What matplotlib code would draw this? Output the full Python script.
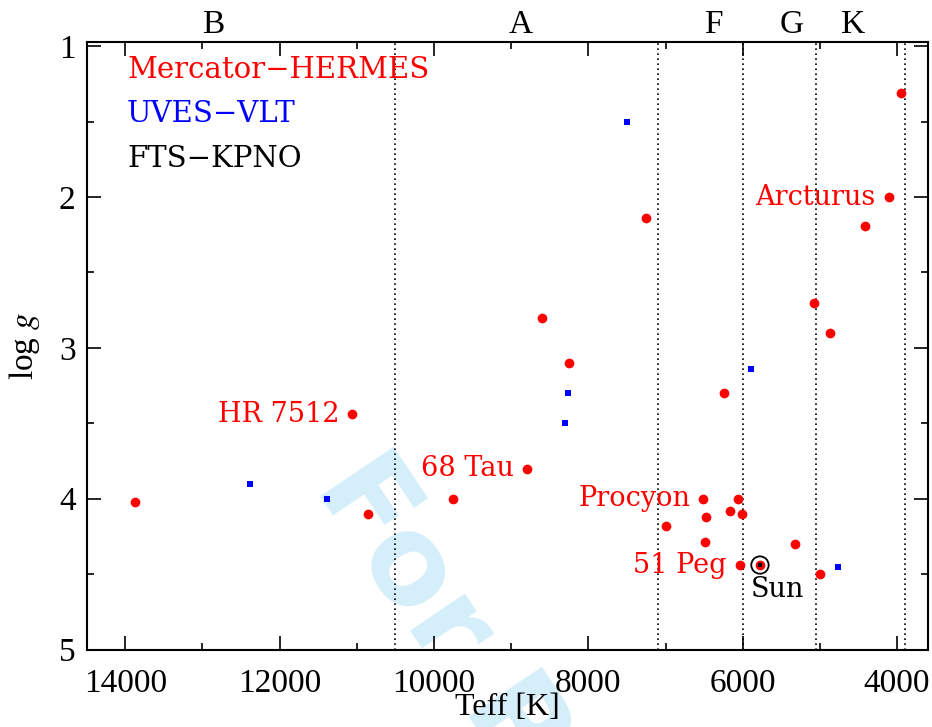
import matplotlib
matplotlib.use('Agg')
import matplotlib.pyplot as plt
from matplotlib.ticker import MultipleLocator
import matplotlib.transforms as mtransforms

plt.rcParams['mathtext.fontset'] = 'stix'

# Mercator-HERMES stars (red)
hermes_teff = [13880, 10850, 11060, 9750, 8800, 8600, 8250, 7250, 7000, 6510,
               6470, 6490, 6160, 6060, 6005, 6040, 5777, 5320, 5000, 5080,
               4870, 4110, 4420, 3945, 6240]
hermes_logg = [4.02, 4.10, 3.44, 4.00, 3.80, 2.80, 3.10, 2.14, 4.18, 4.00,
               4.12, 4.29, 4.08, 4.00, 4.10, 4.44, 4.44, 4.30, 4.50, 2.70,
               2.90, 2.00, 2.19, 1.31, 3.30]

# UVES-VLT stars (blue)
uves_teff = [12390, 11390, 7500, 8260, 8300, 5890, 4770]
uves_logg = [3.90, 4.00, 1.50, 3.30, 3.50, 3.14, 4.45]

# FTS-KPNO (black) - the Sun
kpno_teff = [5777]
kpno_logg = [4.44]

# labelled stars
names = ['HR 7512', '68 Tau', 'Procyon', '51 Peg', 'Arcturus']
names_teff = [11060, 8800, 6510, 6040, 4110]
names_logg = [3.44, 3.80, 4.00, 4.44, 2.00]

# spectral types
sp_bounds = [10500, 7100, 6000, 5050, 3900]
sp_types = ['B', 'A', 'F', 'G', 'K']
sp_pos = [12860, 8880, 6380, 5370, 4570]

serif = 'Liberation Serif'
lab = 'DejaVu Serif'

fig = plt.figure(figsize=(9.32, 7.27), dpi=100)
ax = fig.add_axes([0.093, 0.1066, 0.9027, 0.836])
ax.patch.set_alpha(0)

# watermark behind everything
fig.text(0.335, 0.33, 'For Review', fontsize=88, fontweight='bold',
         family='DejaVu Sans', color='#d4eefa', rotation=-56,
         rotation_mode='anchor', ha='left', va='baseline', zorder=-5)

for b in sp_bounds:
    ax.axvline(b, color='black', ls=(0, (1, 2)), lw=1.2, zorder=1)

ax.scatter(hermes_teff, hermes_logg, s=7**2, marker='o', color='red',
           linewidths=0, zorder=3)
ax.scatter(uves_teff, uves_logg, s=5**2, marker='s', color='blue',
           linewidths=0, zorder=3)
ax.scatter(kpno_teff, kpno_logg, s=3**2, marker='s', color='black',
           linewidths=0, zorder=4)
ax.scatter(kpno_teff, kpno_logg, s=12.5**2, marker='o', facecolors='none',
           edgecolors='black', linewidths=1.3, zorder=4)

for name, t, g in zip(names, names_teff, names_logg):
    ax.annotate(name, xy=(t, g), xytext=(-13, 0), textcoords='offset pixels',
                ha='right', va='center', color='red', fontsize=19.5, family=lab)
ax.annotate('Sun', xy=(kpno_teff[0], kpno_logg[0]), xytext=(17, -24),
            textcoords='offset pixels', ha='center', va='center',
            color='black', fontsize=19.5, family=lab)

ax.text(0.048, 0.953, 'Mercator\u2212HERMES', transform=ax.transAxes,
        color='red', fontsize=21, family=lab, va='center')
ax.text(0.048, 0.881, 'UVES\u2212VLT', transform=ax.transAxes,
        color='blue', fontsize=21, family=lab, va='center')
ax.text(0.048, 0.807, 'FTS\u2212KPNO', transform=ax.transAxes,
        color='black', fontsize=21, family=lab, va='center')

trans = mtransforms.blended_transform_factory(ax.transData, ax.transAxes)
for s, x in zip(sp_types, sp_pos):
    ax.text(x, 1.0143, s, transform=trans, ha='center', va='baseline',
            fontsize=24, family=serif)

ax.set_xlim(14500, 3600)
ax.set_ylim(5, 0.97)
ax.xaxis.set_major_locator(MultipleLocator(2000))
ax.xaxis.set_minor_locator(MultipleLocator(1000))
ax.yaxis.set_major_locator(MultipleLocator(1))
ax.yaxis.set_minor_locator(MultipleLocator(0.5))
ax.tick_params(which='both', direction='in', top=True, right=True,
               width=1.2, labelsize=24)
ax.tick_params(which='major', length=10, pad=8)
ax.tick_params(axis='x', which='major', pad=14)
ax.tick_params(which='minor', length=5)
for lbl in ax.get_xticklabels() + ax.get_yticklabels():
    lbl.set_family(serif)
for sp in ax.spines.values():
    sp.set_linewidth(1.5)

ax.set_xlabel('Teff [K]', fontsize=23, family=serif, labelpad=-5)
ax.set_ylabel('log $g$', fontsize=24, family=serif, labelpad=12)

fig.savefig('out.png', dpi=100)
